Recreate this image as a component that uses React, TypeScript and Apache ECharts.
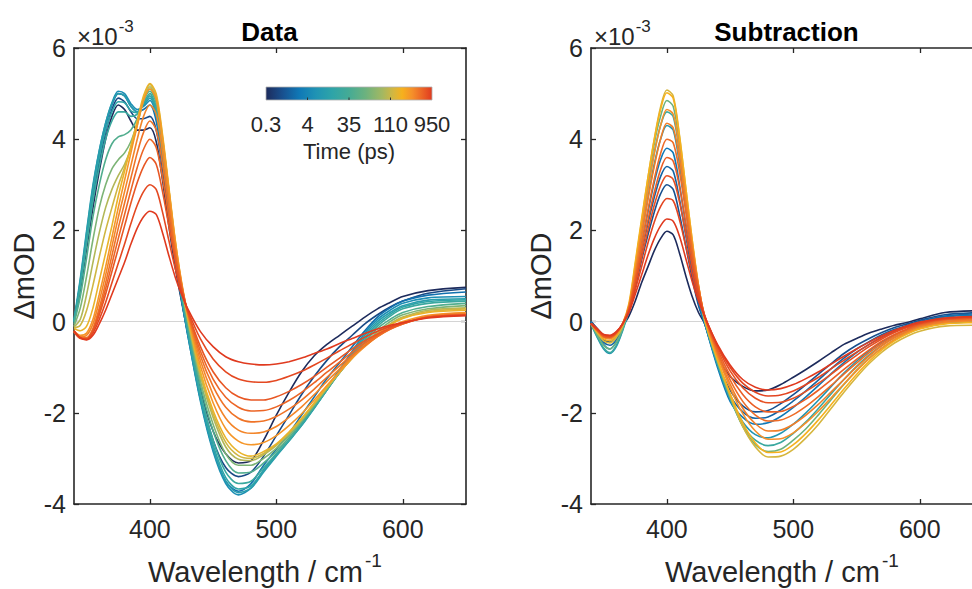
import React, { useEffect, useRef } from "react";
import * as echarts from "echarts";

// ---------------- data (values in units of 1e-3 ΔOD) ----------------
const wavelengths = [340,345,350,355,360,365,370,375,380,385,390,395,400,405,410,415,420,425,430,440,450,460,470,480,490,500,510,520,530,540,550,560,570,580,590,600,620,650];

const xTickValues = [400, 500, 600];
const yTickMin = -4;
const yTickMax = 6;
const yTickStep = 2;

const timeTickLabels = ["0.3", "4", "35", "110", "950"];

// Colormap stops (position, colour)
const colormapPos = [0, 0.1, 0.2, 0.3, 0.4, 0.5, 0.6, 0.7, 0.77, 0.82, 0.88, 0.94, 1];
const colormapColors = ["#1d2b5c","#18508f","#0f78b6","#1f93b4","#2ea4a8","#45ab95","#6cb27e","#a3b862","#d6b63e","#f6b11d","#f5902a","#ec6526","#e03a1f"];

// Panel "Data": spectra, early -> late
const data00 = [0.0,0.7,1.6,2.5,3.3,4.0,4.5,4.75,4.65,4.4,4.2,4.2,4.25,3.95,3.1,2.1,1.2,0.45,-0.25,-1.5,-2.4,-2.9,-3.1,-3.05,-2.6,-2.05,-1.55,-1.1,-0.75,-0.5,-0.3,-0.1,0.1,0.28,0.42,0.55,0.68,0.75];
const data01 = [0.0,0.8,1.75,2.7,3.5,4.15,4.65,4.9,4.82,4.6,4.45,4.45,4.5,4.2,3.35,2.3,1.3,0.5,-0.25,-1.6,-2.6,-3.2,-3.4,-3.3,-2.95,-2.5,-2.05,-1.6,-1.2,-0.85,-0.55,-0.3,-0.05,0.15,0.32,0.45,0.62,0.72];
const data02 = [0.0,0.85,1.85,2.85,3.65,4.3,4.75,5.0,4.95,4.72,4.6,4.65,4.75,4.4,3.5,2.4,1.35,0.5,-0.3,-1.7,-2.8,-3.5,-3.72,-3.55,-3.15,-2.8,-2.45,-2.05,-1.65,-1.25,-0.9,-0.55,-0.2,0.1,0.3,0.45,0.58,0.65];
const data03 = [0.0,0.9,1.95,2.95,3.75,4.35,4.8,5.05,5.0,4.78,4.65,4.72,4.85,4.5,3.6,2.5,1.4,0.5,-0.3,-1.75,-2.85,-3.55,-3.8,-3.65,-3.25,-2.92,-2.6,-2.25,-1.85,-1.45,-1.05,-0.65,-0.25,0.05,0.25,0.4,0.52,0.55];
const data04 = [0.05,0.95,2.0,3.0,3.75,4.35,4.78,5.0,4.95,4.72,4.6,4.75,4.9,4.55,3.65,2.55,1.45,0.55,-0.25,-1.7,-2.8,-3.5,-3.75,-3.65,-3.3,-2.95,-2.62,-2.28,-1.9,-1.5,-1.1,-0.7,-0.3,0.0,0.2,0.35,0.47,0.5];
const data05 = [0.02,0.85,1.85,2.85,3.6,4.2,4.6,4.82,4.8,4.62,4.58,4.78,4.95,4.62,3.72,2.6,1.48,0.58,-0.2,-1.62,-2.7,-3.42,-3.67,-3.6,-3.26,-2.93,-2.61,-2.27,-1.89,-1.5,-1.11,-0.72,-0.35,-0.05,0.16,0.32,0.44,0.48];
const data06 = [0.0,0.75,1.7,2.65,3.4,4.0,4.4,4.6,4.6,4.5,4.55,4.8,5.0,4.7,3.8,2.65,1.5,0.6,-0.15,-1.55,-2.6,-3.3,-3.55,-3.5,-3.2,-2.9,-2.6,-2.25,-1.88,-1.5,-1.12,-0.75,-0.4,-0.1,0.12,0.28,0.4,0.45];
const data07 = [-0.05,0.55,1.4,2.3,3.0,3.55,3.9,4.05,4.1,4.2,4.45,4.85,5.05,4.8,3.9,2.75,1.6,0.7,-0.05,-1.4,-2.4,-3.05,-3.32,-3.3,-3.1,-2.85,-2.55,-2.2,-1.85,-1.48,-1.12,-0.78,-0.45,-0.15,0.05,0.2,0.33,0.4];
const data08 = [-0.1,0.3,1.0,1.8,2.5,3.0,3.35,3.55,3.7,3.95,4.35,4.85,5.1,4.85,3.95,2.8,1.65,0.75,0.0,-1.3,-2.25,-2.9,-3.15,-3.15,-3.0,-2.78,-2.5,-2.18,-1.83,-1.47,-1.12,-0.8,-0.5,-0.22,0.0,0.15,0.28,0.35];
const data09 = [-0.12,0.05,0.6,1.3,1.95,2.5,2.9,3.2,3.45,3.8,4.3,4.85,5.15,4.9,4.0,2.85,1.7,0.8,0.05,-1.2,-2.1,-2.75,-3.02,-3.05,-2.92,-2.72,-2.46,-2.15,-1.8,-1.45,-1.12,-0.8,-0.52,-0.26,-0.05,0.1,0.25,0.3];
const data10 = [-0.14,-0.08,0.25,0.8,1.42,2.0,2.5,2.98,3.38,3.82,4.35,4.9,5.2,4.95,4.05,2.9,1.75,0.82,0.08,-1.15,-2.02,-2.65,-2.94,-3.0,-2.89,-2.7,-2.44,-2.14,-1.79,-1.44,-1.11,-0.8,-0.52,-0.27,-0.06,0.08,0.22,0.28];
const data11 = [-0.15,-0.2,-0.1,0.3,0.9,1.5,2.1,2.75,3.3,3.85,4.4,4.95,5.22,5.0,4.1,2.95,1.8,0.85,0.1,-1.1,-1.95,-2.55,-2.85,-2.95,-2.85,-2.68,-2.42,-2.12,-1.78,-1.43,-1.1,-0.8,-0.52,-0.28,-0.08,0.07,0.2,0.25];
const data12 = [-0.2,-0.3,-0.25,0.05,0.6,1.2,1.85,2.5,3.1,3.7,4.3,4.85,5.1,4.88,4.0,2.9,1.78,0.88,0.15,-0.98,-1.78,-2.35,-2.62,-2.7,-2.65,-2.5,-2.28,-2.02,-1.72,-1.4,-1.1,-0.8,-0.55,-0.32,-0.14,0.0,0.14,0.2];
const data13 = [-0.21,-0.33,-0.3,-0.05,0.45,1.02,1.65,2.28,2.85,3.42,4.0,4.5,4.75,4.55,3.72,2.7,1.66,0.84,0.18,-0.86,-1.6,-2.12,-2.38,-2.45,-2.42,-2.3,-2.1,-1.87,-1.6,-1.31,-1.04,-0.77,-0.54,-0.33,-0.16,-0.03,0.12,0.18];
const data14 = [-0.22,-0.35,-0.35,-0.15,0.3,0.85,1.45,2.05,2.6,3.15,3.7,4.15,4.4,4.2,3.45,2.5,1.55,0.8,0.2,-0.75,-1.42,-1.88,-2.12,-2.2,-2.18,-2.08,-1.92,-1.72,-1.48,-1.22,-0.97,-0.73,-0.52,-0.33,-0.17,-0.05,0.1,0.16];
const data15 = [-0.22,-0.36,-0.37,-0.18,0.22,0.72,1.27,1.82,2.35,2.88,3.38,3.78,4.0,3.82,3.15,2.3,1.45,0.76,0.21,-0.65,-1.26,-1.66,-1.88,-1.96,-1.95,-1.87,-1.73,-1.55,-1.34,-1.11,-0.89,-0.67,-0.47,-0.3,-0.16,-0.05,0.1,0.15];
const data16 = [-0.22,-0.37,-0.38,-0.2,0.15,0.6,1.1,1.6,2.1,2.6,3.05,3.4,3.6,3.45,2.85,2.1,1.35,0.72,0.22,-0.55,-1.1,-1.45,-1.65,-1.72,-1.72,-1.65,-1.53,-1.38,-1.2,-1.0,-0.8,-0.6,-0.42,-0.27,-0.14,-0.04,0.1,0.15];
const data17 = [-0.21,-0.36,-0.39,-0.25,0.05,0.42,0.85,1.28,1.7,2.15,2.55,2.85,3.0,2.9,2.4,1.78,1.17,0.66,0.25,-0.38,-0.82,-1.1,-1.26,-1.32,-1.33,-1.29,-1.2,-1.09,-0.95,-0.8,-0.64,-0.49,-0.34,-0.21,-0.11,-0.03,0.09,0.14];
const data18 = [-0.2,-0.35,-0.4,-0.3,-0.05,0.25,0.6,0.95,1.3,1.7,2.05,2.3,2.42,2.35,1.95,1.45,0.98,0.6,0.28,-0.22,-0.55,-0.77,-0.88,-0.93,-0.95,-0.93,-0.88,-0.8,-0.7,-0.6,-0.48,-0.37,-0.26,-0.16,-0.08,-0.02,0.08,0.13];
const dataCurves = [data00,data01,data02,data03,data04,data05,data06,data07,data08,data09,data10,data11,data12,data13,data14,data15,data16,data17,data18];
const dataColorPos = [0, 0.08, 0.18, 0.28, 0.36, 0.4, 0.45, 0.53, 0.63, 0.72, 0.76, 0.8, 0.87, 0.895, 0.92, 0.94, 0.96, 0.98, 1];

// Panel "Subtraction": spectra, early -> late
const sub00 = [0.0,-0.15,-0.3,-0.35,-0.28,-0.1,0.12,0.45,0.85,1.2,1.55,1.82,1.98,1.9,1.5,1.0,0.55,0.2,-0.05,-0.75,-1.2,-1.42,-1.52,-1.5,-1.38,-1.22,-1.05,-0.87,-0.68,-0.5,-0.37,-0.25,-0.16,-0.08,-0.02,0.06,0.2,0.24];
const sub01 = [0.0,-0.2,-0.4,-0.45,-0.35,-0.1,0.2,0.75,1.35,1.9,2.4,2.8,3.0,2.9,2.35,1.65,0.95,0.35,-0.05,-0.9,-1.5,-1.85,-1.98,-1.95,-1.8,-1.6,-1.38,-1.15,-0.92,-0.7,-0.52,-0.37,-0.24,-0.13,-0.05,0.03,0.15,0.2];
const sub02 = [0.0,-0.22,-0.45,-0.52,-0.4,-0.12,0.22,0.85,1.52,2.15,2.72,3.18,3.4,3.3,2.68,1.88,1.08,0.4,-0.05,-0.95,-1.62,-1.98,-2.12,-2.09,-1.94,-1.74,-1.52,-1.28,-1.03,-0.8,-0.6,-0.44,-0.29,-0.17,-0.08,0.0,0.12,0.18];
const sub03 = [0.0,-0.25,-0.5,-0.6,-0.45,-0.15,0.25,0.95,1.7,2.4,3.05,3.55,3.8,3.7,3.0,2.1,1.2,0.45,-0.05,-1.0,-1.75,-2.1,-2.25,-2.22,-2.08,-1.88,-1.65,-1.4,-1.14,-0.9,-0.68,-0.5,-0.34,-0.21,-0.11,-0.03,0.1,0.15];
const sub04 = [-0.05,-0.35,-0.6,-0.7,-0.55,-0.2,0.25,1.05,1.9,2.7,3.45,4.0,4.3,4.2,3.45,2.45,1.4,0.55,-0.02,-0.95,-1.7,-2.2,-2.48,-2.55,-2.45,-2.25,-2.0,-1.72,-1.42,-1.13,-0.87,-0.64,-0.45,-0.3,-0.18,-0.08,0.04,0.08];
const sub05 = [-0.05,-0.33,-0.58,-0.68,-0.52,-0.18,0.3,1.15,2.05,2.9,3.7,4.3,4.6,4.5,3.7,2.62,1.52,0.6,0.0,-0.92,-1.68,-2.28,-2.6,-2.72,-2.65,-2.45,-2.2,-1.9,-1.58,-1.27,-0.98,-0.73,-0.52,-0.35,-0.22,-0.12,0.0,0.04];
const sub06 = [-0.05,-0.3,-0.52,-0.6,-0.45,-0.15,0.3,1.2,2.15,3.05,3.9,4.5,4.85,4.72,3.9,2.78,1.65,0.68,0.02,-0.88,-1.65,-2.3,-2.7,-2.85,-2.8,-2.6,-2.35,-2.04,-1.71,-1.38,-1.07,-0.8,-0.58,-0.4,-0.26,-0.15,-0.04,0.0];
const sub07 = [-0.05,-0.25,-0.42,-0.47,-0.35,-0.1,0.35,1.25,2.2,3.15,4.0,4.7,5.08,4.95,4.08,2.92,1.78,0.75,0.02,-0.85,-1.62,-2.3,-2.75,-2.97,-2.95,-2.8,-2.55,-2.25,-1.9,-1.55,-1.22,-0.92,-0.67,-0.47,-0.32,-0.21,-0.1,-0.08];
const sub08 = [-0.05,-0.22,-0.38,-0.42,-0.3,-0.05,0.4,1.3,2.25,3.15,3.98,4.65,5.02,4.9,4.05,2.92,1.8,0.8,0.05,-0.82,-1.58,-2.22,-2.66,-2.87,-2.86,-2.7,-2.45,-2.15,-1.82,-1.48,-1.16,-0.87,-0.62,-0.42,-0.27,-0.16,-0.05,-0.02];
const sub09 = [-0.05,-0.2,-0.35,-0.38,-0.27,-0.05,0.35,1.15,2.05,2.9,3.68,4.3,4.65,4.55,3.78,2.75,1.72,0.8,0.08,-0.75,-1.45,-2.02,-2.4,-2.58,-2.57,-2.44,-2.22,-1.96,-1.67,-1.37,-1.08,-0.81,-0.58,-0.39,-0.24,-0.13,-0.02,0.02];
const sub10 = [-0.05,-0.2,-0.34,-0.36,-0.26,-0.05,0.32,1.05,1.88,2.68,3.4,4.0,4.35,4.25,3.55,2.58,1.62,0.78,0.1,-0.7,-1.37,-1.9,-2.24,-2.4,-2.38,-2.25,-2.05,-1.81,-1.54,-1.27,-1.0,-0.75,-0.53,-0.35,-0.21,-0.1,0.0,0.04];
const sub11 = [-0.05,-0.2,-0.33,-0.35,-0.25,-0.05,0.3,0.95,1.7,2.45,3.12,3.68,4.0,3.92,3.28,2.4,1.52,0.75,0.12,-0.65,-1.28,-1.75,-2.05,-2.18,-2.16,-2.04,-1.86,-1.64,-1.4,-1.15,-0.91,-0.68,-0.48,-0.31,-0.18,-0.08,0.03,0.06];
const sub12 = [-0.05,-0.19,-0.32,-0.34,-0.25,-0.05,0.28,0.88,1.55,2.22,2.83,3.33,3.6,3.52,2.95,2.16,1.37,0.68,0.12,-0.6,-1.18,-1.6,-1.87,-1.98,-1.97,-1.86,-1.7,-1.5,-1.28,-1.05,-0.83,-0.62,-0.43,-0.28,-0.16,-0.06,0.05,0.08];
const sub13 = [-0.04,-0.18,-0.3,-0.33,-0.24,-0.05,0.25,0.8,1.4,2.0,2.55,2.98,3.2,3.12,2.62,1.93,1.23,0.62,0.12,-0.55,-1.08,-1.45,-1.68,-1.78,-1.77,-1.68,-1.53,-1.35,-1.15,-0.94,-0.74,-0.55,-0.38,-0.24,-0.13,-0.04,0.06,0.1];
const sub14 = [-0.04,-0.17,-0.29,-0.31,-0.23,-0.05,0.22,0.7,1.2,1.72,2.18,2.52,2.7,2.65,2.23,1.65,1.05,0.53,0.11,-0.52,-1.0,-1.35,-1.55,-1.63,-1.61,-1.52,-1.38,-1.22,-1.03,-0.85,-0.67,-0.5,-0.35,-0.22,-0.11,-0.03,0.07,0.11];
const sub15 = [-0.04,-0.16,-0.28,-0.3,-0.22,-0.05,0.2,0.6,1.02,1.45,1.82,2.1,2.25,2.2,1.87,1.38,0.88,0.45,0.1,-0.5,-0.95,-1.27,-1.44,-1.5,-1.47,-1.38,-1.25,-1.1,-0.93,-0.76,-0.6,-0.45,-0.31,-0.19,-0.09,-0.01,0.08,0.12];
const subCurves = [sub00,sub01,sub02,sub03,sub04,sub05,sub06,sub07,sub08,sub09,sub10,sub11,sub12,sub13,sub14,sub15];
const subColorPos = [0, 0.1, 0.15, 0.2, 0.32, 0.45, 0.6, 0.77, 0.82, 0.88, 0.905, 0.93, 0.95, 0.97, 0.985, 1];

// ---------------- helpers ----------------
const FONT = '"Liberation Sans", Arial, Helvetica, sans-serif';
const INK = "#262626";

function hexToRgb(h: string) {
  const n = parseInt(h.slice(1), 16);
  return [(n >> 16) & 255, (n >> 8) & 255, n & 255];
}
function colorAt(t: number) {
  for (let i = 0; i < colormapPos.length - 1; i++) {
    const a = colormapPos[i], b = colormapPos[i + 1];
    if (t <= b || i === colormapPos.length - 2) {
      const f = Math.max(0, Math.min(1, (t - a) / (b - a)));
      const c1 = hexToRgb(colormapColors[i]);
      const c2 = hexToRgb(colormapColors[i + 1]);
      const c = c1.map((v, k) => Math.round(v + (c2[k] - v) * f));
      return `rgb(${c[0]},${c[1]},${c[2]})`;
    }
  }
  return colormapColors[colormapColors.length - 1];
}
function measure(text: string, size: number, weight = "normal") {
  const ctx = document.createElement("canvas").getContext("2d");
  if (!ctx) return text.length * size * 0.55;
  ctx.font = `${weight} ${size}px "Liberation Sans", Arial, sans-serif`;
  return ctx.measureText(text).width;
}
function txt(x: number, y: number, text: string, size: number, opts: any = {}) {
  const align = opts.align || "left";
  return {
    type: "text",
    x,
    y,
    rotation: opts.rotation || 0,
    silent: true,
    z: 100,
    style: {
      text,
      fontSize: size,
      fontFamily: FONT,
      fontWeight: opts.weight || "normal",
      fill: opts.color || INK,
      align,
      textAlign: align,
      verticalAlign: "middle",
      textVerticalAlign: "middle",
    },
  };
}

const PANELS = [
  { left: 74, title: "Data", curves: dataCurves, pos: dataColorPos },
  { left: 591, title: "Subtraction", curves: subCurves, pos: subColorPos },
];
const GRID_TOP = 48;
const GRID_W = 392;
const GRID_H = 456;

function buildOption() {
  const grids: any[] = [];
  const xAxes: any[] = [];
  const yAxes: any[] = [];
  const series: any[] = [];
  const graphics: any[] = [];

  PANELS.forEach((p, gi) => {
    grids.push({ left: p.left, top: GRID_TOP, width: GRID_W, height: GRID_H, containLabel: false, outerBoundsMode: "none", show: false });
    const axisLine = { show: true, onZero: false, lineStyle: { color: INK, width: 1.6 } };
    const xTick = { show: true, inside: true, length: 5, customValues: xTickValues, lineStyle: { color: INK, width: 1.3 } };
    xAxes.push({
      type: "value", gridIndex: gi, position: "bottom", min: 340, max: 650,
      splitLine: { show: false }, axisLine, axisTick: xTick,
      axisLabel: { show: true, customValues: xTickValues, fontSize: 25, color: INK, fontFamily: FONT, margin: 12 },
    });
    xAxes.push({
      type: "value", gridIndex: gi, position: "top", min: 340, max: 650,
      splitLine: { show: false }, axisLine, axisTick: xTick, axisLabel: { show: false },
    });
    const yTick = { show: true, inside: true, length: 5, lineStyle: { color: INK, width: 1.3 } };
    yAxes.push({
      type: "value", gridIndex: gi, position: "left", min: yTickMin, max: yTickMax, interval: yTickStep,
      splitLine: { show: false }, axisLine, axisTick: yTick,
      axisLabel: { show: true, fontSize: 25, color: INK, fontFamily: FONT, margin: 8 },
    });
    yAxes.push({
      type: "value", gridIndex: gi, position: "right", min: yTickMin, max: yTickMax, interval: yTickStep,
      splitLine: { show: false }, axisLine, axisTick: yTick, axisLabel: { show: false },
    });

    p.curves.forEach((vals, ci) => {
      const col = colorAt(p.pos[ci]);
      const s: any = {
        type: "line",
        xAxisIndex: gi * 2,
        yAxisIndex: gi * 2,
        data: wavelengths.map((w, i) => [w, vals[i]]),
        showSymbol: false,
        symbol: "none",
        smooth: 0.3,
        silent: true,
        clip: true,
        lineStyle: { width: 1.6, color: col },
        itemStyle: { color: col },
        emphasis: { disabled: true },
        z: 2,
      };
      if (ci === 0) {
        s.markLine = {
          silent: true,
          symbol: "none",
          label: { show: false },
          lineStyle: { color: "#d4d4d4", type: "solid", width: 1 },
          data: [{ yAxis: 0 }],
          z: 1,
        };
      }
      series.push(s);
    });

    const cx = p.left + GRID_W / 2;
    // title
    graphics.push(txt(cx - 0.5, 32, p.title, 26, { align: "center", weight: "bold", color: "#000" }));
    // exponent label
    const ex = p.left + 3;
    const w10 = measure("×10", 24);
    graphics.push(txt(ex, 36, "×10", 24));
    graphics.push(txt(ex + w10 + 1, 26, "-3", 17));
    // y axis name
    graphics.push(txt(p.left - 50, 276, "ΔmOD", 29, { align: "center", rotation: Math.PI / 2 }));
    // x axis name
    const xs = p.left + 74;
    const wm = measure("Wavelength / cm", 29);
    graphics.push(txt(xs, 572, "Wavelength / cm", 29));
    graphics.push(txt(xs + wm + 2, 560, "-1", 19));
  });

  // colour bar
  const cbX = 266, cbY = 87, cbW = 166, cbH = 13;
  graphics.push({
    type: "rect",
    silent: true,
    z: 100,
    shape: { x: cbX, y: cbY, width: cbW, height: cbH },
    style: {
      fill: new echarts.graphic.LinearGradient(0, 0, 1, 0,
        colormapPos.map((p, i) => ({ offset: p, color: colormapColors[i] }))),
      stroke: "#b0b0b0",
      lineWidth: 0.8,
    },
  });
  timeTickLabels.forEach((lab, i) => {
    const x = cbX + (cbW * i) / (timeTickLabels.length - 1);
    if (i > 0 && i < timeTickLabels.length - 1) {
      graphics.push({
        type: "line", silent: true, z: 101,
        shape: { x1: x, y1: cbY + cbH - 2.5, x2: x, y2: cbY + cbH },
        style: { stroke: "#333", lineWidth: 1 },
      });
    }
    graphics.push(txt(x, 124, lab, 22, { align: "center" }));
  });
  graphics.push(txt(cbX + cbW / 2, 151, "Time (ps)", 22, { align: "center" }));

  return {
    animation: false,
    backgroundColor: "#ffffff",
    grid: grids,
    xAxis: xAxes,
    yAxis: yAxes,
    series,
    graphic: { elements: graphics },
  };
}

export default function App() {
  const ref = useRef<HTMLDivElement>(null);
  useEffect(() => {
    if (!ref.current) return;
    const chart = echarts.init(ref.current, null, { renderer: "svg" });
    chart.setOption(buildOption());
    return () => {
      chart.dispose();
    };
  }, []);
  return (
    <div
      ref={ref}
      style={{ position: "fixed", left: 0, top: 0, width: 972, height: 589, background: "#fff" }}
    />
  );
}
